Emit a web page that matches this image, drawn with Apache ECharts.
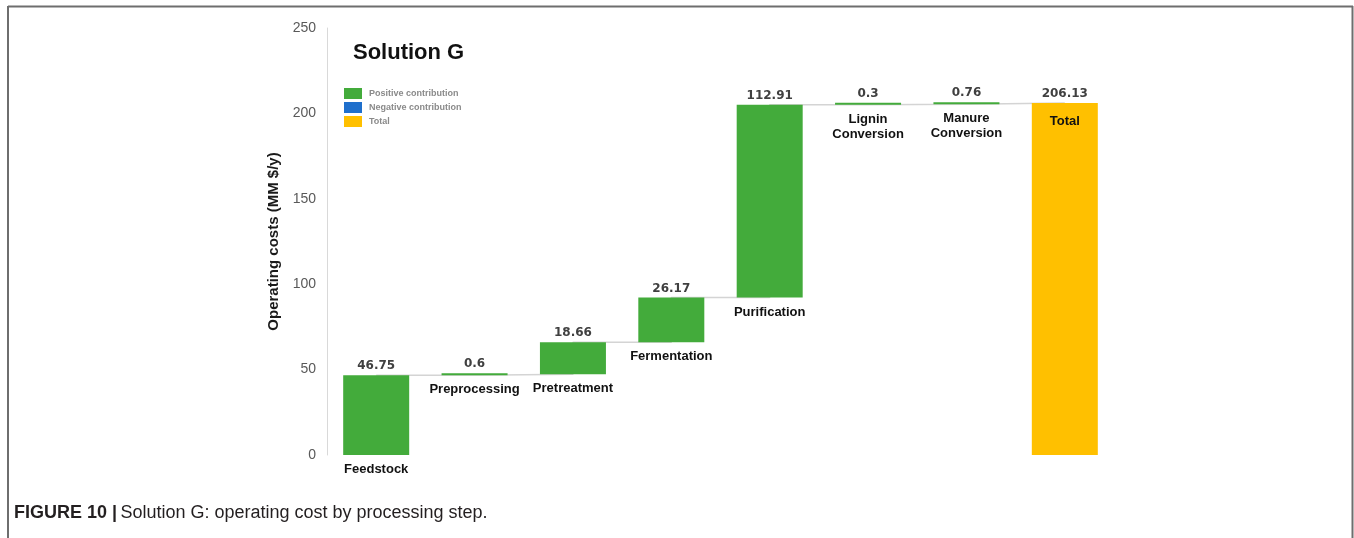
<!DOCTYPE html>
<html>
<head>
<meta charset="utf-8">
<script src="https://cdn.jsdelivr.net/npm/echarts@6/dist/echarts.min.js"></script>
<style>html,body{margin:0;padding:0;background:#fff}#c{width:1354px;height:538px}</style>
</head>
<body>
<div id="c"></div>
<script>
const categories = ['Feedstock', 'Preprocessing', 'Pretreatment', 'Fermentation', 'Purification', 'Lignin\nConversion', 'Manure\nConversion', 'Total'];
const stepValues = [46.75, 0.6, 18.66, 26.17, 112.91, 0.3, 0.76];
const totalValue = 206.13;
const yTicks = [0, 50, 100, 150, 200, 250];

const n = categories.length;
const base = [];
let run = 0;
const cumulative = [];
stepValues.forEach(v => { base.push(run); run += v; cumulative.push(run); });
base.push(0);
cumulative.push(totalValue);
const positive = stepValues.concat(['-']);
const negative = categories.map(() => '-');
const total = categories.map((c, i) => i === n - 1 ? totalValue : '-');
const allValues = stepValues.concat([totalValue]);

const GREEN = '#43ab3b', BLUE = '#1f6fcc', GOLD = '#ffc000';
const BW = 66;
const valueLabel = { show: true, position: 'top', distance: 3, color: '#404040', fontFamily: 'DejaVu Sans', fontWeight: 'bold', fontSize: 12 };

const chart = echarts.init(document.getElementById('c'));
chart.setOption({
  animation: false,
  backgroundColor: '#fff',
  title: { text: 'Solution G', left: 348, top: 37, textStyle: { fontFamily: 'Liberation Sans', fontWeight: 'bold', fontSize: 22, color: '#111' } },
  legend: {
    data: ['Positive contribution', 'Negative contribution', 'Total'],
    orient: 'vertical', left: 339, top: 83, itemWidth: 18, itemHeight: 11, itemGap: 3, icon: 'rect',
    textStyle: { fontFamily: 'Liberation Sans', fontSize: 9, color: '#8a8a8a', fontWeight: 'bold', padding: [0, 0, 0, 2] }
  },
  grid: { left: 327, right: 240, top: 28, bottom: 83 },
  xAxis: {
    type: 'category', data: categories,
    axisLine: { show: false }, axisTick: { show: false }, axisLabel: { show: false }
  },
  yAxis: {
    type: 'value', min: yTicks[0], max: yTicks[yTicks.length - 1], interval: 50,
    name: 'Operating costs (MM $/y)', nameLocation: 'middle', nameGap: 45,
    nameTextStyle: { fontFamily: 'Liberation Sans', fontWeight: 'bold', fontSize: 15, color: '#1a1a1a' },
    axisLine: { show: true, lineStyle: { color: '#d9d9d9', width: 1 } },
    axisTick: { show: false }, splitLine: { show: false },
    axisLabel: { margin: 11, fontFamily: 'Liberation Sans', fontSize: 14, color: '#595959' }
  },
  series: [
    { type: 'line', name: 'connector', data: cumulative, step: 'end', symbol: 'none', z: 1,
      lineStyle: { color: '#d4d4d4', width: 1.5 }, silent: true },
    { type: 'bar', name: 'base', stack: 'a', data: base, barWidth: BW, barGap: '-100%', itemStyle: { color: 'transparent' }, z: 2, silent: true },
    { type: 'bar', name: 'Positive contribution', stack: 'a', data: positive, barWidth: BW, barGap: '-100%', barMinHeight: 2,
      itemStyle: { color: GREEN }, z: 2, label: valueLabel },
    { type: 'bar', name: 'Negative contribution', stack: 'a', data: negative, barWidth: BW, barGap: '-100%', itemStyle: { color: BLUE }, z: 2 },
    { type: 'bar', name: 'Total', stack: 'a', data: total, barWidth: BW, barGap: '-100%', itemStyle: { color: GOLD }, z: 2, label: valueLabel },
    { type: 'bar', name: 'base2', stack: 'b', data: base, barWidth: BW, barGap: '-100%', itemStyle: { color: 'transparent' }, z: 3, silent: true },
    { type: 'bar', name: 'names', stack: 'b', data: allValues.map((v, i) => i === n - 1 ? { value: v, label: { position: 'insideTop', distance: 11 } } : v),
      barWidth: BW, barGap: '-100%', itemStyle: { color: 'transparent' }, z: 3, silent: true,
      label: { show: true, position: 'bottom', distance: 7, formatter: p => p.name, fontFamily: 'Liberation Sans', fontWeight: 'bold', fontSize: 13, color: '#111', lineHeight: 15 } }
  ],
  graphic: [
    { type: 'line', shape: { x1: 8, y1: 6.5, x2: 1353, y2: 6.5 }, style: { stroke: '#6e6e6e', lineWidth: 2 } },
    { type: 'line', shape: { x1: 8, y1: 6, x2: 8, y2: 538 }, style: { stroke: '#6e6e6e', lineWidth: 2 } },
    { type: 'line', shape: { x1: 1352.5, y1: 6, x2: 1352.5, y2: 538 }, style: { stroke: '#6e6e6e', lineWidth: 2 } },
    { type: 'text', left: 14, top: 504, style: {
      text: '{b|FIGURE 10 |} {r|Solution G: operating cost by processing step.}',
      rich: { b: { fontFamily: 'Liberation Sans', fontWeight: 'bold', fontSize: 18, fill: '#231f20' },
              r: { fontFamily: 'Liberation Sans', fontSize: 18, fill: '#231f20' } } } }
  ]
});
</script>
</body>
</html>
